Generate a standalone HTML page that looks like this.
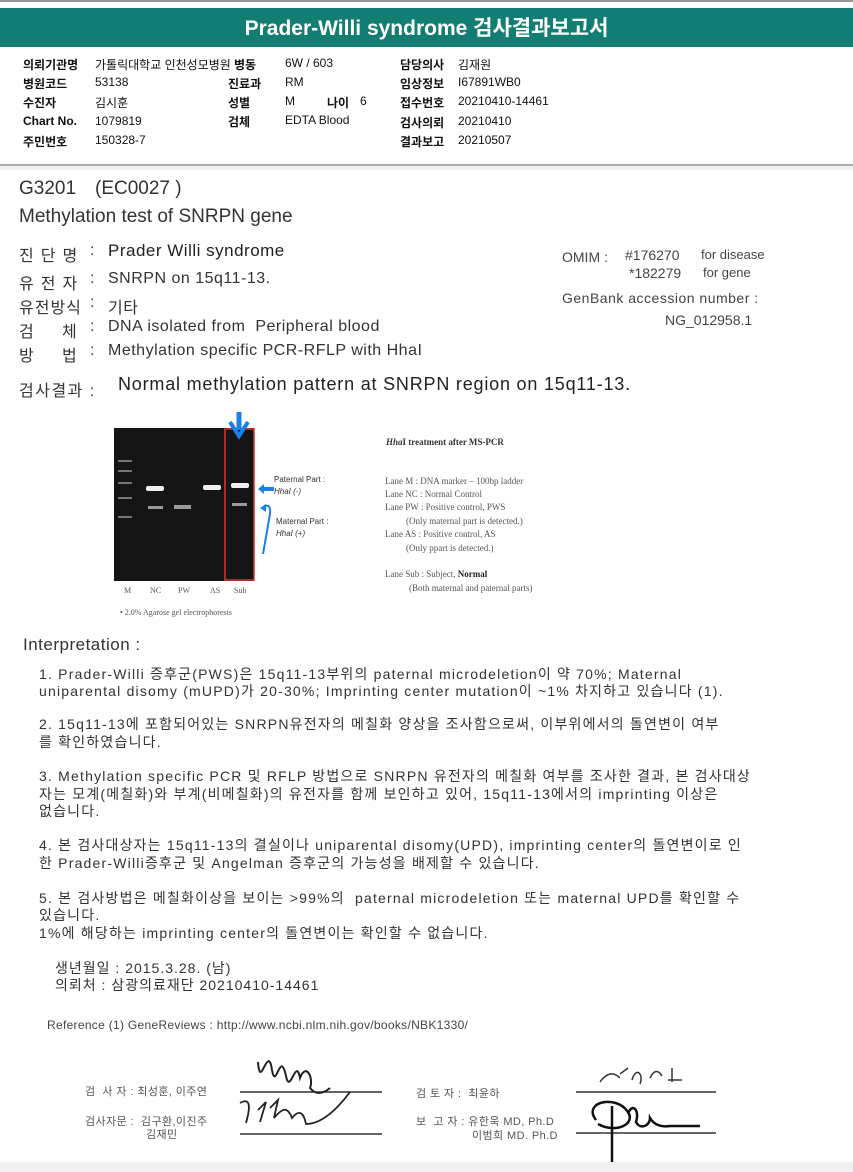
<!DOCTYPE html>
<html><head><meta charset="utf-8"><style>
body{margin:0;width:853px;height:1172px;position:relative;background:#fff;font-family:"Liberation Sans","Noto Sans CJK KR",sans-serif;overflow:hidden}
.a{position:absolute;white-space:pre}
.h{font-size:12px;color:#111}
.b{font-weight:bold}
.t{font-size:16px;color:#333;letter-spacing:0.5px}
.i{font-size:14px;color:#333;letter-spacing:1.2px}
.sg{font-size:11px;color:#555;letter-spacing:0.4px}
</style></head><body>
<div class="a" style="left:0;top:0;width:853px;height:2px;background:#999"></div>
<div class="a" style="left:0;top:8px;width:853px;height:39px;background:#127e73"></div>
<div class="a" style="left:0;top:12px;width:853px;text-align:center;color:#fff;font-size:21px;font-weight:bold">Prader-Willi syndrome 검사결과보고서</div>
<div class="a h b" style="left:23px;top:56px">의뢰기관명</div><div class="a h" style="left:95px;top:56px">가톨릭대학교 인천성모병원</div>
<div class="a h b" style="left:23px;top:75px">병원코드</div><div class="a h" style="left:95px;top:75px">53138</div>
<div class="a h b" style="left:23px;top:94px">수진자</div><div class="a h" style="left:95px;top:94px">김시훈</div>
<div class="a h b" style="left:23px;top:114px">Chart No.</div><div class="a h" style="left:95px;top:114px">1079819</div>
<div class="a h b" style="left:23px;top:133px">주민번호</div><div class="a h" style="left:95px;top:133px">150328-7</div>
<div class="a h b" style="left:234px;top:56px">병동</div><div class="a h" style="left:285px;top:56px">6W / 603</div>
<div class="a h b" style="left:228px;top:75px">진료과</div><div class="a h" style="left:285px;top:75px">RM</div>
<div class="a h b" style="left:228px;top:94px">성별</div><div class="a h" style="left:285px;top:94px">M</div>
<div class="a h b" style="left:327px;top:94px">나이</div><div class="a h" style="left:360px;top:94px">6</div>
<div class="a h b" style="left:228px;top:113px">검체</div><div class="a h" style="left:285px;top:113px">EDTA Blood</div>
<div class="a h b" style="left:400px;top:56px">담당의사</div><div class="a h" style="left:458px;top:56px">김재원</div>
<div class="a h b" style="left:400px;top:75px">임상정보</div><div class="a h" style="left:458px;top:75px">I67891WB0</div>
<div class="a h b" style="left:400px;top:94px">접수번호</div><div class="a h" style="left:458px;top:94px">20210410-14461</div>
<div class="a h b" style="left:400px;top:114px">검사의뢰</div><div class="a h" style="left:458px;top:114px">20210410</div>
<div class="a h b" style="left:400px;top:133px">결과보고</div><div class="a h" style="left:458px;top:133px">20210507</div>
<div class="a" style="left:0;top:164px;width:853px;height:2px;background:#aaa"></div>
<div class="a" style="left:0;top:166px;width:853px;height:4px;background:#f2f2f2"></div>

<div class="a" style="left:19px;top:178px;font-size:19px;color:#333">G3201</div>
<div class="a" style="left:95px;top:178px;font-size:19px;color:#333">(EC0027 )</div>
<div class="a" style="left:19px;top:206px;font-size:19px;color:#333">Methylation test of SNRPN gene</div>

<div class="a t" style="left:19px;top:242px;letter-spacing:7px">진단명</div>
<div class="a t" style="left:19px;top:270px;letter-spacing:7px">유전자</div>
<div class="a t" style="left:19px;top:294px;letter-spacing:1px">유전방식</div>
<div class="a t" style="left:19px;top:318px">검</div><div class="a t" style="left:62px;top:318px">체</div>
<div class="a t" style="left:19px;top:342px">방</div><div class="a t" style="left:62px;top:342px">법</div>
<div class="a t" style="left:90px;top:242px">:</div><div class="a t" style="left:90px;top:270px">:</div><div class="a t" style="left:90px;top:294px">:</div><div class="a t" style="left:90px;top:318px">:</div><div class="a t" style="left:90px;top:342px">:</div>
<div class="a t" style="left:108px;top:241px;font-size:17px;color:#222">Prader Willi syndrome</div>
<div class="a t" style="left:108px;top:270px">SNRPN on 15q11-13.</div>
<div class="a t" style="left:108px;top:294px">기타</div>
<div class="a t" style="left:108px;top:318px">DNA isolated from  Peripheral blood</div>
<div class="a t" style="left:108px;top:342px">Methylation specific PCR-RFLP with HhaI</div>

<div class="a" style="left:562px;top:249px;font-size:14px;color:#444">OMIM :</div>
<div class="a" style="left:625px;top:247px;font-size:14px;color:#444">#176270</div>
<div class="a" style="left:701px;top:247px;font-size:13px;color:#444">for disease</div>
<div class="a" style="left:629px;top:265px;font-size:14px;color:#444">*182279</div>
<div class="a" style="left:703px;top:265px;font-size:13px;color:#444">for gene</div>
<div class="a" style="left:562px;top:290px;font-size:14px;color:#444;letter-spacing:0.5px">GenBank accession number :</div>
<div class="a" style="left:665px;top:312px;font-size:14px;color:#444">NG_012958.1</div>
<div class="a t" style="left:19px;top:377px;letter-spacing:1.5px">검사결과 :</div>
<div class="a" style="left:118px;top:374px;font-size:18px;color:#222;letter-spacing:0.8px">Normal methylation pattern at SNRPN region on 15q11-13.</div>

<svg class="a" style="left:100px;top:410px" width="460" height="210">
<rect x="14" y="18" width="140" height="153" fill="#151515"/>
<g fill="#777"><rect x="18" y="50" width="14" height="2"/><rect x="18" y="60" width="14" height="2"/><rect x="18" y="72" width="14" height="2"/><rect x="18" y="87" width="14" height="2"/><rect x="18" y="106" width="14" height="2"/></g>
<g fill="#eee"><rect x="46" y="76" width="18" height="5" rx="2"/><rect x="103" y="75" width="18" height="5" rx="2"/><rect x="131" y="73" width="18" height="5" rx="2"/></g>
<g fill="#999"><rect x="48" y="96" width="15" height="3"/><rect x="74" y="95" width="17" height="4"/><rect x="132" y="93" width="15" height="3"/></g>
<rect x="125" y="19" width="29" height="151" fill="none" stroke="#d33" stroke-width="1.5"/>
<path d="M139 2 v18" stroke="#1a7fe6" stroke-width="5" fill="none"/><path d="M130 12 l9 14 9-14" stroke="#1a7fe6" stroke-width="4" fill="none"/>
<path d="M162 79 h12" stroke="#1a7fe6" stroke-width="4"/><path d="M158 79 l6-5 v10z" fill="#1a7fe6"/>
<path d="M165 96 q6-2 5 8 l-7 40" stroke="#1a7fe6" stroke-width="2" fill="none"/><path d="M160 98 l6-4 0 8z" fill="#1a7fe6"/>
<g font-family="Liberation Serif" font-size="8" fill="#555"><text x="24" y="183">M</text><text x="50" y="183">NC</text><text x="78" y="183">PW</text><text x="110" y="183">AS</text><text x="134" y="183">Sub</text>
<text x="20" y="205">•  2.0% Agarose gel electrophoresis</text></g>
<g font-size="8" fill="#333" font-family="Liberation Sans"><text x="174" y="72">Paternal Part :</text><text x="174" y="84" font-style="italic">HhaI (-)</text><text x="176" y="114">Maternal Part :</text><text x="176" y="126" font-style="italic">HhaI (+)</text></g>
<g font-family="Liberation Serif" font-size="9" fill="#555"><text x="286" y="35" font-weight="bold" fill="#333"><tspan font-style="italic">Hha</tspan>I treatment after MS-PCR</text>
<text x="285" y="74">Lane M : DNA marker – 100bp ladder</text><text x="285" y="87">Lane NC : Normal Control</text><text x="285" y="100">Lane PW : Positive control, PWS</text><text x="306" y="114">(Only maternal part is detected.)</text><text x="285" y="127">Lane AS : Positive control, AS</text><text x="306" y="141">(Only ppart is detected.)</text><text x="285" y="167">Lane  Sub : Subject, <tspan font-weight="bold" fill="#222">Normal</tspan></text><text x="309" y="181">(Both maternal and paternal parts)</text></g>
</svg>

<div class="a" style="left:23px;top:635px;font-size:17px;color:#333;letter-spacing:0.5px">Interpretation :</div>
<div class="a i" style="left:39px;top:664px">1. Prader-Willi 증후군(PWS)은 15q11-13부위의 paternal microdeletion이 약 70%; Maternal</div>
<div class="a i" style="left:39px;top:681px">uniparental disomy (mUPD)가 20-30%; Imprinting center mutation이 ~1% 차지하고 있습니다 (1).</div>
<div class="a i" style="left:39px;top:714px">2. 15q11-13에 포함되어있는 SNRPN유전자의 메칠화 양상을 조사함으로써, 이부위에서의 돌연변이 여부</div>
<div class="a i" style="left:39px;top:732px">를 확인하였습니다.</div>
<div class="a i" style="left:39px;top:766px">3. Methylation specific PCR 및 RFLP 방법으로 SNRPN 유전자의 메칠화 여부를 조사한 결과, 본 검사대상</div>
<div class="a i" style="left:39px;top:784px">자는 모계(메칠화)와 부계(비메칠화)의 유전자를 함께 보인하고 있어, 15q11-13에서의 imprinting 이상은</div>
<div class="a i" style="left:39px;top:801px">없습니다.</div>
<div class="a i" style="left:39px;top:835px">4. 본 검사대상자는 15q11-13의 결실이나 uniparental disomy(UPD), imprinting center의 돌연변이로 인</div>
<div class="a i" style="left:39px;top:853px">한 Prader-Willi증후군 및 Angelman 증후군의 가능성을 배제할 수 있습니다.</div>
<div class="a i" style="left:39px;top:888px">5. 본 검사방법은 메칠화이상을 보이는 &gt;99%의  paternal microdeletion 또는 maternal UPD를 확인할 수</div>
<div class="a i" style="left:39px;top:905px">있습니다.</div>
<div class="a i" style="left:39px;top:923px">1%에 해당하는 imprinting center의 돌연변이는 확인할 수 없습니다.</div>
<div class="a i" style="left:55px;top:958px;letter-spacing:1px">생년월일 : 2015.3.28. (남)</div>
<div class="a i" style="left:55px;top:975px;letter-spacing:1px">의뢰처 : 삼광의료재단 20210410-14461</div>
<div class="a" style="left:47px;top:1018px;font-size:12px;color:#444;letter-spacing:0.3px">Reference (1) GeneReviews : http://www.ncbi.nlm.nih.gov/books/NBK1330/</div>

<div class="a sg" style="left:85px;top:1083px">검  사 자 : 최성훈, 이주연</div>
<div class="a sg" style="left:85px;top:1113px">검사자문 :  김구환,이진주</div>
<div class="a sg" style="left:146px;top:1126px">김재민</div>
<div class="a sg" style="left:416px;top:1085px">검 토 자 :  최윤하</div>
<div class="a sg" style="left:416px;top:1113px">보  고 자 : 유한욱 MD, Ph.D</div>
<div class="a sg" style="left:472px;top:1127px">이범희 MD. Ph.D</div>
<svg class="a" style="left:0;top:1040px" width="853" height="132">
<path d="M240 52 h142 M240 94 h142 M576 52 h140 M576 93 h140" stroke="#333" stroke-width="1.5"/>
<path d="M258 22 c2 30 10 -20 14 8 c4 22 8 -22 14 6 c4 20 10 -20 14 2 c6 -16 14 0 10 10 q8 10 20 0" stroke="#222" stroke-width="2" fill="none"/>
<path d="M240 63 q14 -8 6 20 M258 70 l8 -8 -6 20 M270 68 l8 -8 -4 18 c10 -12 14 -10 18 0 c8 -10 12 -4 14 6 q20 0 44 -32" stroke="#222" stroke-width="1.8" fill="none"/>
<path d="M600 42 q10 -14 20 -4 M620 34 l8 -6 M632 40 c4 -14 12 -6 8 4 M650 38 q6 -12 12 -2 M668 40 h14 M672 28 v14" stroke="#333" stroke-width="1.5" fill="none"/>
<path d="M596 80 c-14 -18 20 -26 32 -8 c8 12 -12 22 -30 12 M612 66 v60 M628 74 c4 -12 12 -4 8 8 c4 8 14 4 14 -4 q6 10 20 8 h30" stroke="#111" stroke-width="2.5" fill="none"/>
</svg>
<div class="a" style="left:0;top:1162px;width:853px;height:10px;background:#f0f0f0"></div>
</body></html>
